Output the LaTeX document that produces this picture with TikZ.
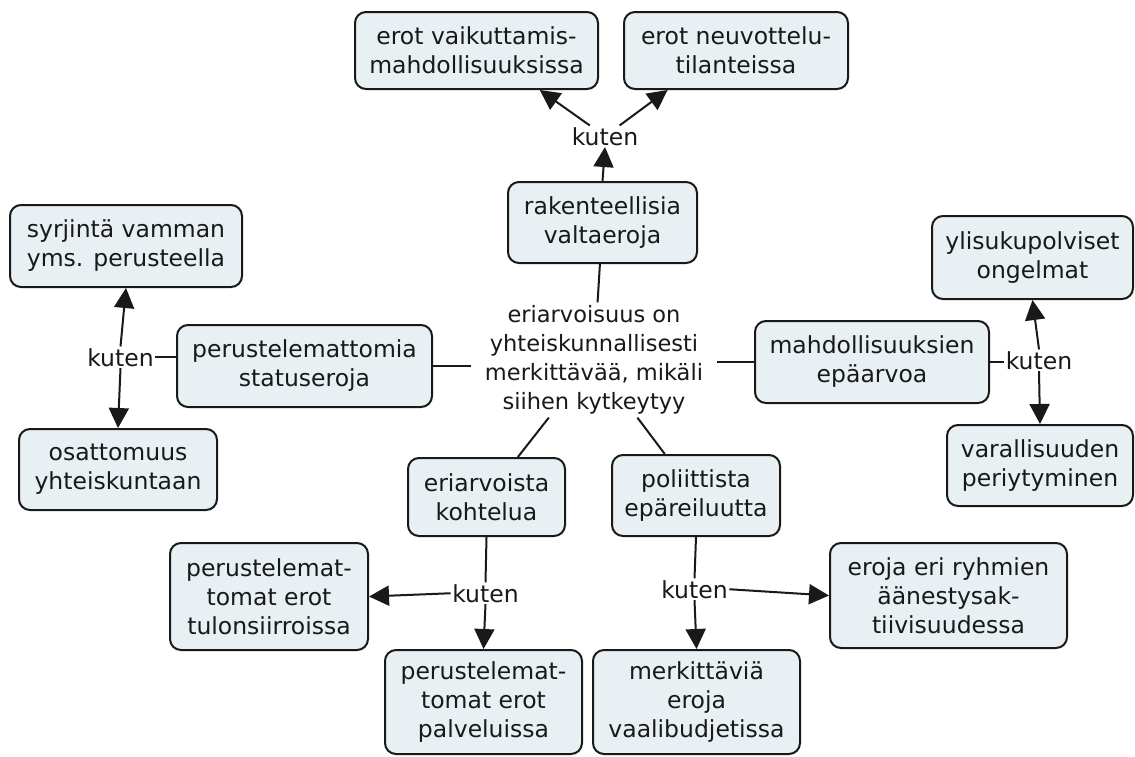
\documentclass[tikz,border=0pt]{standalone}
\usepackage{fontspec}
\setmainfont{DejaVu Sans}
\usetikzlibrary{arrows.meta}
\definecolor{boxfill}{RGB}{232,240,244}
\definecolor{ink}{RGB}{25,25,25}
\begin{document}
\begin{tikzpicture}[x=1pt,y=-1pt,
  every node/.style={font=\fontsize{23.5}{29}\selectfont, text=ink},
  concept/.style={draw=ink, fill=boxfill, line width=2pt, rounded corners=11pt,
    align=center, inner sep=0pt},
  linkword/.style={inner sep=1.5pt, anchor=base},
  conn/.style={draw=ink, line width=2pt},
  arr/.style={conn, -{Triangle[length=20pt,width=20pt]}}]

% page
\fill[white] (0,0) rectangle (1135,756);
\useasboundingbox (0,0) rectangle (1135,756);

% concepts
\node[concept, minimum width=243pt, minimum height=77pt] (vaik) at (476.5,50.5) {erot vaikuttamis-\\mahdollisuuksissa};
\node[concept, minimum width=224pt, minimum height=77pt] (neu) at (736,50.5) {erot neuvottelu-\\tilanteissa};
\node[concept, minimum width=189pt, minimum height=81pt] (rak) at (602.5,222.5) {rakenteellisia\\valtaeroja};
\node[align=center, inner xsep=14pt, inner ysep=3pt, font=\fontsize{22.5}{29}\selectfont] (center) at (594,360)
  {eriarvoisuus on\\yhteiskunnallisesti\\merkittävää, mikäli\\siihen kytkeytyy};
\node[concept, minimum width=255pt, minimum height=82pt] (stat) at (304.5,366) {perustelemattomia\\statuseroja};
\node[concept, minimum width=232pt, minimum height=82pt] (syr) at (126,246) {syrjintä vamman\\yms. perusteella};
\node[concept, minimum width=198pt, minimum height=81pt] (osat) at (118,469.5) {osattomuus\\yhteiskuntaan};
\node[concept, minimum width=234pt, minimum height=82pt] (mahd) at (872,362) {mahdollisuuksien\\epäarvoa};
\node[concept, minimum width=201pt, minimum height=83pt] (ylis) at (1032.5,257.5) {ylisukupolviset\\ongelmat};
\node[concept, minimum width=186pt, minimum height=81pt] (var) at (1040,465.5) {varallisuuden\\periytyminen};
\node[concept, minimum width=157pt, minimum height=78pt] (eri) at (486.5,497) {eriarvoista\\kohtelua};
\node[concept, minimum width=168pt, minimum height=81pt] (pol) at (696,495.5) {poliittista\\epäreiluutta};
\node[concept, minimum width=198pt, minimum height=107pt] (tulo) at (269,596.5) {perustelemat-\\tomat erot\\tulonsiirroissa};
\node[concept, minimum width=197pt, minimum height=104pt] (pal) at (483.5,702) {perustelemat-\\tomat erot\\palveluissa};
\node[concept, minimum width=207pt, minimum height=104pt] (vaal) at (696.5,702) {merkittäviä\\eroja\\vaalibudjetissa};
\node[concept, minimum width=237pt, minimum height=105pt] (eroj) at (948.5,595.5) {eroja eri ryhmien\\äänestysak-\\tiivisuudessa};

% linking words
\node[linkword] (ktop) at (605,145) {kuten};
\node[linkword] (kl) at (120.5,366) {kuten};
\node[linkword] (kr) at (1039,369) {kuten};
\node[linkword] (kb1) at (485.5,602) {kuten};
\node[linkword] (kb2) at (694.5,598) {kuten};

% connectors
\draw[arr] (rak.north) -- (ktop.south);
\draw[arr] (ktop) -- (vaik.328);
\draw[arr] (ktop) -- (neu.210);
\draw[conn] (rak) -- (center);
\draw[conn] (stat.east) -- (stat.east -| center.west);
\draw[conn] (mahd.west) -- (mahd.west -| center.east);
\draw[conn] (center) -- (eri);
\draw[conn] (center) -- (pol);

\draw[conn] (kl.east) -- (kl.east -| stat.west);
\draw[arr] (kl.north) -- (syr.south);
\draw[arr] (kl.south) -- (osat.north);

\draw[conn] (mahd.east) -- (mahd.east -| kr.west);
\draw[arr] (kr.north) -- (ylis.south);
\draw[arr] (kr.south) -- (var.north);

\draw[conn] (eri.south) -- (kb1.north);
\draw[arr] (kb1.south) -- (pal.north);
\draw[arr] (kb1.west) -- (tulo.east);

\draw[conn] (pol.south) -- (kb2.north);
\draw[arr] (kb2.south) -- (vaal.north);
\draw[arr] (kb2.east) -- (eroj.west);
\end{tikzpicture}
\end{document}
